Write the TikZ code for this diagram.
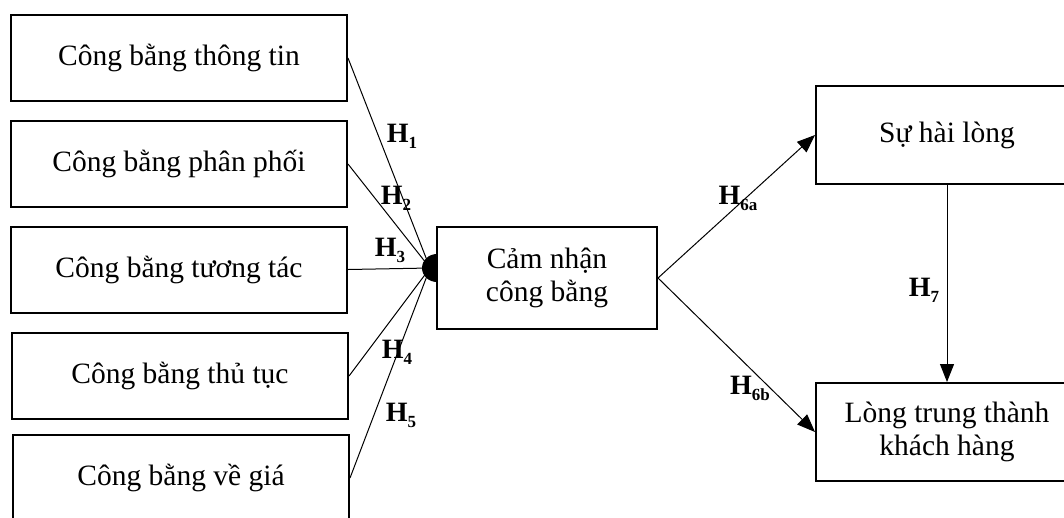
\documentclass[tikz,border=0pt]{standalone}
\usepackage{fontspec}
\setmainfont{Liberation Serif}
\usetikzlibrary{arrows.meta}
\newcommand\hyp[1]{\textbf{H}\raisebox{-6pt}{\fontsize{17}{17}\selectfont\textbf{#1}}}
\begin{document}
\begin{tikzpicture}[x=1pt,y=-1pt,
  box/.style={draw,line width=2pt,minimum width=336pt,minimum height=86pt,
    inner sep=0pt,align=center,font=\fontsize{29.5}{33}\selectfont},
  conn/.style={line width=1pt},
  arr/.style={conn,-{Triangle[length=18pt,width=14pt]}},
  hlab/.style={inner sep=0pt,font=\fontsize{28}{28}\selectfont}]
\useasboundingbox (0,0) rectangle (1064,517);
\clip (0,0) rectangle (1064,517);

% left-hand factor boxes
\node[box] (b1) at (179,58)  {Công bằng thông tin};
\node[box] (b2) at (179,164) {Công bằng phân phối};
\node[box] (b3) at (179,269.5) {Công bằng tương tác};
\node[box] (b4) at (180,376) {Công bằng thủ tục};
\node[box] (b5) at (181,478) {Công bằng về giá};

% central and outcome boxes
\node[box,minimum width=220pt,minimum height=102pt] (c) at (547,278) {Cảm nhận\\công bằng};
\node[box,minimum width=262pt,minimum height=98pt] (s) at (947,135) {Sự hài lòng};
\node[box,minimum width=262pt,minimum height=98pt] (l) at (947,432) {Lòng trung thành\\khách hàng};

% converging point in front of the central box
\coordinate (j) at (430,268);
\foreach \b in {b1,b2,b3,b4,b5} \draw[conn] (\b.east) -- (j);
\fill (437,254) arc[start angle=90,end angle=270,x radius=15pt,y radius=14pt] -- cycle;

% outgoing paths
\draw[arr] (c.east) -- (s.west);
\draw[arr] (c.east) -- (l.west);
\draw[arr] (s.south) -- (l.north);

% hypothesis labels
\node[hlab] (h1) at (402,136) {\hyp{1}};
\node[hlab] (h2) at (396,198) {\hyp{2}};
\node[hlab] (h3) at (390,250) {\hyp{3}};
\node[hlab] (h4) at (397,352) {\hyp{4}};
\node[hlab] (h5) at (401,415) {\hyp{5}};
\node[hlab] (h6a) at (738,198) {\hyp{6a}};
\node[hlab] (h6b) at (750,388) {\hyp{6b}};
\node[hlab] (h7) at (924,290) {\hyp{7}};
\end{tikzpicture}
\end{document}
